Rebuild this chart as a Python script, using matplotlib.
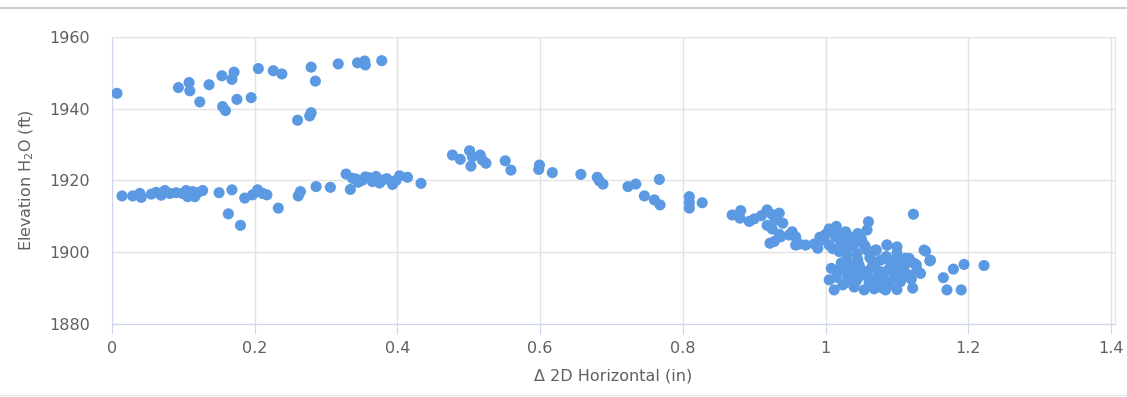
import matplotlib.pyplot as plt
from matplotlib.lines import Line2D

# upper band (0 - 0.4 in)
upper_x = [0.007, 0.093, 0.108, 0.109, 0.123, 0.136, 0.154, 0.168, 0.171, 0.155,
           0.159, 0.175, 0.195, 0.205, 0.226, 0.238, 0.260, 0.277, 0.279, 0.279,
           0.285, 0.317, 0.344, 0.354, 0.355, 0.378]
upper_y = [1944.3, 1945.9, 1947.3, 1945.0, 1941.9, 1946.7, 1949.2, 1948.2, 1950.2, 1940.6,
           1939.5, 1942.6, 1943.1, 1951.2, 1950.6, 1949.7, 1936.8, 1938.0, 1938.9, 1951.6,
           1947.7, 1952.5, 1952.8, 1953.3, 1952.2, 1953.4]

# lower band (0 - 0.45 in)
lower_x = [0.014, 0.029, 0.039, 0.041, 0.055, 0.062, 0.069, 0.074, 0.081, 0.090,
           0.099, 0.104, 0.106, 0.113, 0.116, 0.120, 0.127, 0.150, 0.168, 0.163,
           0.180, 0.186, 0.197, 0.204, 0.211, 0.217, 0.233, 0.261, 0.264, 0.286,
           0.306, 0.328, 0.334, 0.337, 0.351, 0.365, 0.370, 0.379, 0.393, 0.403,
           0.414, 0.433, 0.345, 0.360, 0.375, 0.385, 0.398, 0.355, 0.342]
lower_y = [1915.7, 1915.7, 1916.4, 1915.3, 1916.2, 1916.7, 1915.9, 1917.2, 1916.4, 1916.6,
           1916.4, 1917.2, 1915.5, 1916.9, 1915.5, 1916.6, 1917.2, 1916.6, 1917.4, 1910.7,
           1907.5, 1915.1, 1916.0, 1917.4, 1916.4, 1916.0, 1912.3, 1915.7, 1916.9, 1918.3,
           1918.1, 1921.8, 1917.5, 1920.6, 1920.1, 1919.7, 1921.1, 1920.1, 1918.9, 1921.3,
           1920.9, 1919.2, 1919.5, 1920.8, 1919.3, 1920.5, 1920.0, 1921.0, 1920.4]

# descending middle section
mid_x = [0.477, 0.488, 0.501, 0.503, 0.505, 0.516, 0.519, 0.524, 0.551, 0.559,
         0.599, 0.598, 0.617, 0.657, 0.680, 0.683, 0.688, 0.723, 0.734, 0.746,
         0.760, 0.767, 0.768, 0.809, 0.809, 0.827, 0.809, 0.869, 0.881, 0.880,
         0.893, 0.900, 0.910, 0.918, 0.925, 0.930, 0.925, 0.935, 0.918, 0.928,
         0.922, 0.935, 0.940, 0.937, 0.953, 0.949, 0.963, 0.984]
mid_y = [1927.1, 1925.9, 1928.3, 1924.0, 1926.6, 1927.1, 1925.7, 1924.8, 1925.5, 1922.9,
         1924.3, 1923.1, 1922.2, 1921.7, 1920.9, 1919.9, 1919.0, 1918.3, 1919.0, 1915.7,
         1914.6, 1920.3, 1913.2, 1915.5, 1912.3, 1913.8, 1913.9, 1910.4, 1911.6, 1909.5,
         1908.6, 1909.3, 1910.2, 1911.8, 1910.5, 1909.0, 1906.5, 1905.0, 1907.5, 1903.0,
         1902.5, 1910.9, 1908.1, 1904.3, 1905.3, 1904.8, 1902.3, 1902.3]

# cluster around 1 in
right_x = [0.953, 0.958, 0.958, 0.972, 0.989, 0.998, 1.005, 1.010, 1.014, 1.019,
           1.021, 1.028, 1.030, 1.035, 1.042, 1.044, 1.052, 1.058, 1.060, 1.058,
           1.071, 1.086, 1.100, 1.123, 1.140, 1.146, 1.165, 1.170, 1.179, 1.190,
           1.194, 1.222, 1.005, 1.012, 1.019, 1.024, 1.030, 1.037, 1.040, 1.047,
           1.054, 1.056, 1.063, 1.070, 1.075, 1.080, 1.083, 1.088, 1.093, 1.098,
           1.105, 1.110, 1.116, 1.122, 1.124, 1.128, 1.133, 1.084, 1.088, 1.112,
           1.103, 1.077, 1.066, 1.047, 1.033, 1.061, 1.040,
           1.000, 1.005, 1.015, 1.020, 1.025, 1.032, 1.038, 1.045, 1.050, 1.055,
           0.992, 1.010, 1.028, 1.070, 1.086, 1.100, 1.117, 1.138, 1.147,
           1.008, 1.015, 1.022, 1.028, 1.035, 1.043, 1.050, 1.058, 1.065, 1.072,
           1.079, 1.090, 1.095, 1.102, 1.108, 1.115, 1.120, 1.127, 1.062, 1.085,
           1.045, 1.068, 1.100]
right_y = [1905.7, 1904.3, 1902.0, 1902.0, 1901.1, 1903.4, 1902.0, 1906.2, 1904.3, 1900.2,
           1902.9, 1905.7, 1898.8, 1902.0, 1903.4, 1899.7, 1902.5, 1900.6, 1908.5, 1906.2,
           1900.6, 1902.0, 1901.5, 1910.6, 1900.3, 1897.6, 1892.9, 1889.5, 1895.3, 1889.5,
           1896.6, 1896.3, 1892.3, 1889.5, 1895.1, 1890.9, 1893.7, 1896.4, 1891.8, 1893.2,
           1889.5, 1894.6, 1892.7, 1895.5, 1893.7, 1890.0, 1892.3, 1895.1, 1896.9, 1893.7,
           1891.8, 1896.0, 1893.7, 1890.0, 1896.9, 1895.1, 1894.1, 1889.5, 1890.8, 1898.3,
           1897.8, 1897.8, 1897.4, 1896.4, 1896.0, 1891.5, 1890.3,
           1905.0, 1906.5, 1907.2, 1904.8, 1903.0, 1904.5, 1901.5, 1905.2, 1903.8, 1901.8,
           1904.2, 1901.0, 1900.8, 1900.6, 1902.0, 1899.7, 1898.3, 1900.6, 1897.8,
           1895.5, 1893.0, 1897.0, 1891.5, 1894.5, 1892.0, 1895.0, 1893.5, 1895.8, 1891.5,
           1894.5, 1897.5, 1892.5, 1895.0, 1893.0, 1897.5, 1892.5, 1896.5, 1898.5, 1898.8,
           1898.0, 1889.8, 1889.6]

xticks = [0, 0.2, 0.4, 0.6, 0.8, 1, 1.2, 1.4]
xtick_labels = ['0', '0.2', '0.4', '0.6', '0.8', '1', '1.2', '1.4']
yticks = [1880, 1900, 1920, 1940, 1960]

dot_color = '#5b9ae3'
text_color = '#606060'

fig = plt.figure(figsize=(11.27, 3.97), dpi=100)
ax = fig.add_axes([0.0994, 0.1839, 0.8900, 0.7229])

for xs, ys in [(upper_x, upper_y), (lower_x, lower_y), (mid_x, mid_y), (right_x, right_y)]:
    ax.scatter(xs, ys, s=64, color=dot_color, edgecolors='none', zorder=3)

ax.set_xlim(0, 1.4056)
ax.set_ylim(1880, 1960)
ax.set_xticks(xticks)
ax.set_xticklabels(xtick_labels)
ax.set_yticks(yticks)

ax.grid(True, color='#e3e3e3', linewidth=1)
ax.set_axisbelow(True)
ax.spines['left'].set_color('#ccd6eb')
ax.spines['bottom'].set_color('#ccd6eb')
ax.spines['top'].set_color('#e3e3e3')
ax.spines['right'].set_color('#e3e3e3')

ax.tick_params(axis='x', length=7.5, color='#ccd6eb', labelsize=11.5,
               labelcolor=text_color, pad=5)
ax.tick_params(axis='y', length=0, labelsize=11.5, labelcolor=text_color, pad=16)

ax.set_xlabel('Δ 2D Horizontal (in)', fontsize=11.5, color=text_color, labelpad=9)
ax.set_ylabel('Elevation H$_2$O (ft)', fontsize=11.5, color=text_color, labelpad=9)

# container border lines
fig.add_artist(Line2D([0, 1], [0.98, 0.98], transform=fig.transFigure,
                      color='#c4c4c4', linewidth=1.2))
fig.add_artist(Line2D([0, 1], [0.006, 0.006], transform=fig.transFigure,
                      color='#e6e6e6', linewidth=1))

fig.savefig('out.png', dpi=100)
